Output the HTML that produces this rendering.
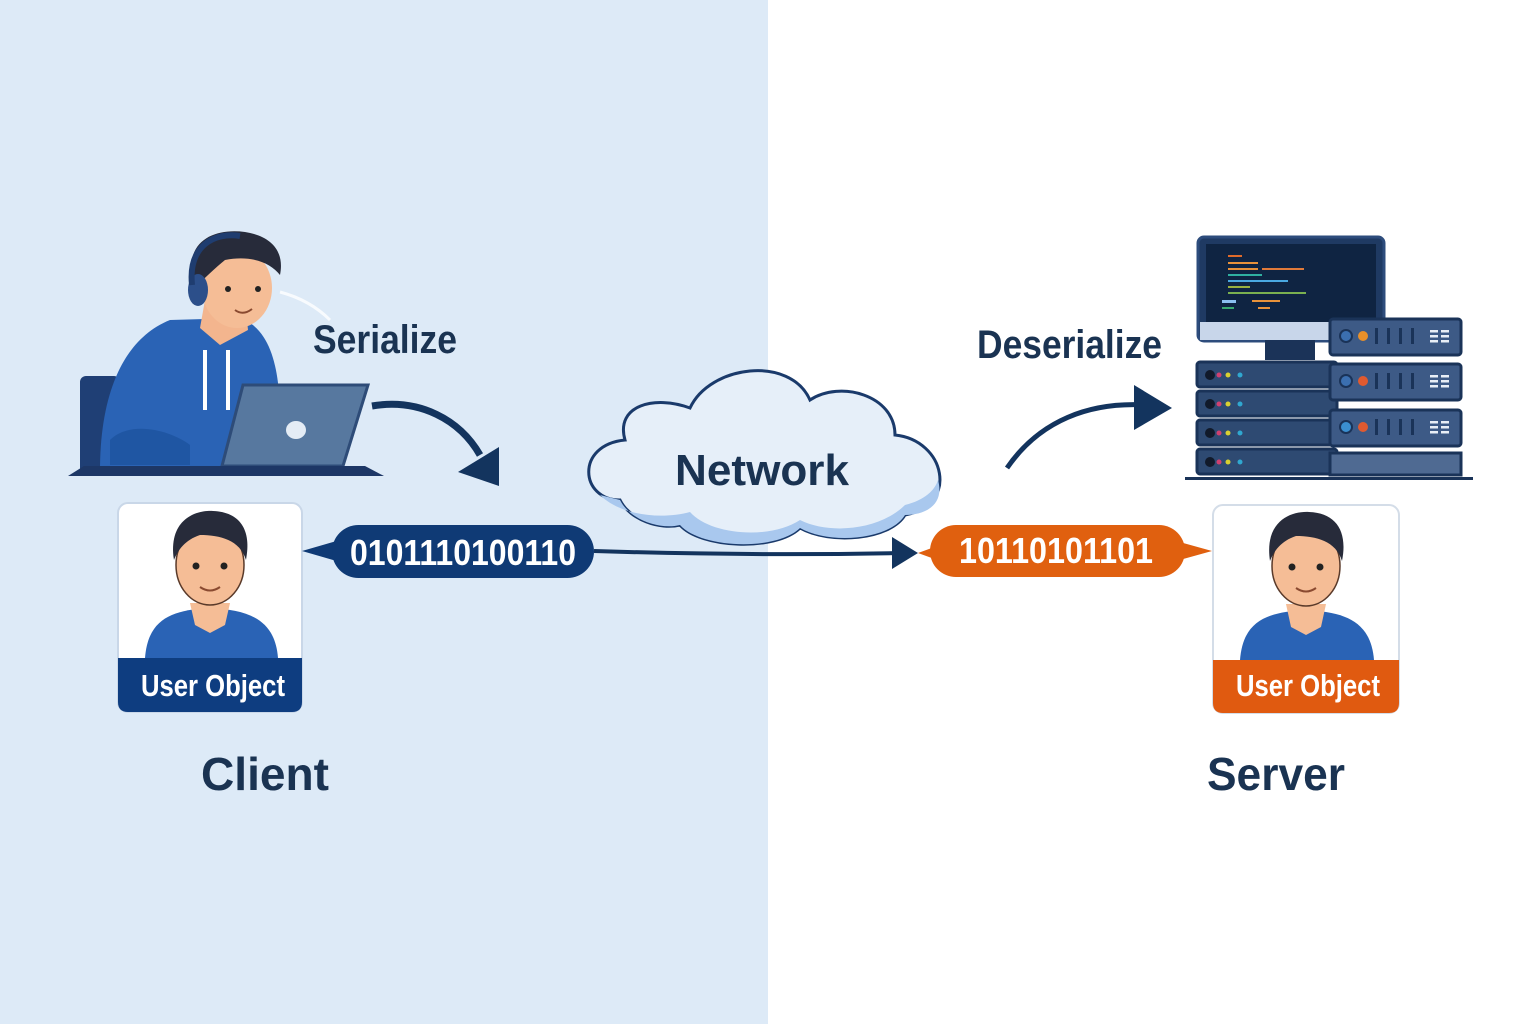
<!DOCTYPE html>
<html><head><meta charset="utf-8"><style>
html,body{margin:0;padding:0;width:1536px;height:1024px;overflow:hidden;background:#fff}
svg{display:block}
text{font-family:"Liberation Sans",sans-serif;font-weight:bold}
</style></head><body>
<svg width="1536" height="1024" viewBox="0 0 1536 1024" xmlns="http://www.w3.org/2000/svg">
<rect x="0" y="0" width="768" height="1024" fill="#ddeaf7"/>
<rect x="768" y="0" width="768" height="1024" fill="#ffffff"/>

<!-- Client person at desk -->
<rect x="80" y="376" width="40" height="98" rx="6" fill="#1f3f75"/>
<path d="M100 470 C100 400 120 340 170 320 L240 318 C275 330 280 380 280 420 L280 470 Z" fill="#2a63b5"/>
<path d="M110 440 C130 420 170 430 190 445 L190 465 L110 465 Z" fill="#1f56a3"/>
<rect x="203" y="350" width="4" height="60" fill="#fff"/><rect x="226" y="350" width="4" height="60" fill="#fff"/>
<path d="M205 300 L245 300 L248 330 L220 345 L200 328 Z" fill="#f3b58e"/>
<ellipse cx="237" cy="288" rx="35" ry="40" fill="#f5bd96"/>
<path d="M192 280 C185 240 215 228 245 232 C270 236 285 250 280 275 C270 262 250 255 225 260 C215 268 205 278 192 290 Z" fill="#272b3a"/>
<ellipse cx="198" cy="290" rx="10" ry="16" fill="#2c4f8a"/>
<path d="M192 285 C188 245 215 232 240 236" stroke="#1f3d70" stroke-width="6" fill="none"/>
<circle cx="228" cy="289" r="3" fill="#222"/><circle cx="258" cy="289" r="3" fill="#222"/>
<path d="M235 310 Q243 316 252 309" stroke="#8a4a30" stroke-width="2" fill="none"/>
<path d="M280 292 Q310 300 330 320" stroke="#fff" stroke-width="3" fill="none" opacity="0.8"/>
<path d="M243 385 L368 385 L343 466 L222 466 Z" fill="#57789f" stroke="#2e4c78" stroke-width="3"/>
<ellipse cx="296" cy="430" rx="10" ry="9" fill="#e4ecf5"/>
<path d="M68 476 L84 466 L365 466 L384 476 Z" fill="#1d3766"/>

<text x="313" y="353" font-size="40" fill="#1a3352" textLength="144" lengthAdjust="spacingAndGlyphs">Serialize</text>
<path d="M372 406 C420 398 460 420 480 455" stroke="#13345e" stroke-width="7" fill="none"/>
<polygon points="499,447 499,486 458,472" fill="#13345e"/>

<!-- Left user card -->
<g>
<rect x="118" y="503" width="184" height="209" rx="10" fill="#fff" stroke="#c9d7e8" stroke-width="2"/>
<path d="M118 658 L302 658 L302 702 Q302 712 292 712 L128 712 Q118 712 118 702 Z" fill="#0e3d80"/>
<path d="M145 658 C148 620 170 610 210 608 C250 610 275 620 278 658 Z" fill="#2a63b5"/>
<path d="M190 603 L230 603 L225 625 L210 633 L195 625 Z" fill="#f5bd96"/>
<ellipse cx="210" cy="565" rx="34" ry="40" fill="#f5bd96" stroke="#5a3a2a" stroke-width="1.5"/>
<path d="M174 560 C168 520 195 510 213 511 C240 512 252 530 246 560 C240 540 220 535 200 535 C185 540 178 550 174 560 Z" fill="#272b3a"/>
<circle cx="196" cy="566" r="3.5" fill="#222"/><circle cx="224" cy="566" r="3.5" fill="#222"/>
<path d="M200 587 Q210 594 220 587" stroke="#8a4a30" stroke-width="2" fill="none"/>
<text x="213" y="696" font-size="31" fill="#fff" text-anchor="middle" textLength="144" lengthAdjust="spacingAndGlyphs">User Object</text>
</g>

<!-- Navy pill -->
<polygon points="302,551 340,540 340,562" fill="#0f3a75"/>
<rect x="332" y="525" width="262" height="53" rx="26.5" fill="#0f3a75"/>
<text x="463" y="565" font-size="36" fill="#fff" text-anchor="middle" textLength="226" lengthAdjust="spacingAndGlyphs">0101110100110</text>

<!-- Cloud -->
<path d="M620 500 C580 500 575 445 625 440 C615 405 655 395 690 408 C710 365 790 355 810 400 C840 380 895 395 895 435 C945 440 960 505 905 515 C890 540 830 545 800 528 C775 552 700 548 680 525 C660 530 630 520 620 500 Z" fill="#e6eff9" stroke="#1a3a6b" stroke-width="3"/>
<path d="M600 495 C620 515 660 520 690 512 C710 535 770 540 800 520 C830 535 880 530 905 505 C925 500 935 490 938 480 C945 505 925 515 905 515 C890 540 830 545 800 528 C775 552 700 548 680 525 C660 530 630 520 620 500 Z" fill="#a9c8ee"/>
<text x="762" y="485" font-size="44" fill="#1a3352" text-anchor="middle" textLength="174" lengthAdjust="spacingAndGlyphs">Network</text>

<!-- Connector line -->
<path d="M594 551 Q750 556 900 553" stroke="#13345e" stroke-width="4" fill="none"/>
<polygon points="918,553 892,537 892,569" fill="#13345e"/>

<!-- Orange pill -->
<polygon points="1212,551 1176,541 1176,561" fill="#e0600f"/>
<polygon points="918,553 940,545 940,561" fill="#e0600f"/>
<rect x="930" y="525" width="255" height="52" rx="26" fill="#e0600f"/>
<text x="1056" y="563" font-size="36" fill="#fff" text-anchor="middle" textLength="194" lengthAdjust="spacingAndGlyphs">10110101101</text>

<!-- Right card -->
<g>
<rect x="1213" y="505" width="186" height="208" rx="10" fill="#fff" stroke="#d4dde8" stroke-width="2"/>
<path d="M1213 660 L1399 660 L1399 703 Q1399 713 1389 713 L1223 713 Q1213 713 1213 703 Z" fill="#e05a10"/>
<path d="M1240 660 C1243 622 1265 612 1306 610 C1346 612 1371 622 1374 660 Z" fill="#2a63b5"/>
<path d="M1286 604 L1326 604 L1321 627 L1306 635 L1291 627 Z" fill="#f5bd96"/>
<ellipse cx="1306" cy="566" rx="34" ry="40" fill="#f5bd96" stroke="#5a3a2a" stroke-width="1.5"/>
<path d="M1270 561 C1264 521 1291 511 1309 512 C1336 513 1348 531 1342 561 C1336 541 1316 536 1296 536 C1281 541 1274 551 1270 561 Z" fill="#272b3a"/>
<circle cx="1292" cy="567" r="3.5" fill="#222"/><circle cx="1320" cy="567" r="3.5" fill="#222"/>
<path d="M1296 588 Q1306 595 1316 588" stroke="#8a4a30" stroke-width="2" fill="none"/>
<text x="1308" y="696" font-size="31" fill="#fff" text-anchor="middle" textLength="144" lengthAdjust="spacingAndGlyphs">User Object</text>
</g>

<text x="977" y="358" font-size="40" fill="#1a3352" textLength="185" lengthAdjust="spacingAndGlyphs">Deserialize</text>
<path d="M1007 468 C1040 420 1090 402 1145 405" stroke="#13345e" stroke-width="5" fill="none"/>
<polygon points="1172,408 1134,385 1134,430" fill="#13345e"/>

<!-- Server -->
<rect x="1198" y="237" width="186" height="104" rx="6" fill="#1f3a63" stroke="#2d4c7c" stroke-width="3"/>
<rect x="1206" y="244" width="170" height="78" fill="#0f2442"/>
<rect x="1200" y="322" width="182" height="18" fill="#c8d6ea"/>
<rect x="1228" y="255" width="14" height="2" fill="#e06a2a"/>
<rect x="1228" y="262" width="30" height="2" fill="#e8923a"/>
<rect x="1228" y="268" width="30" height="2" fill="#e8923a"/><rect x="1262" y="268" width="42" height="2" fill="#e07a3a"/>
<rect x="1228" y="274" width="34" height="2" fill="#30b0a0"/>
<rect x="1228" y="280" width="60" height="2" fill="#4aa8e0"/>
<rect x="1228" y="286" width="22" height="2" fill="#9ab040"/>
<rect x="1228" y="292" width="78" height="2" fill="#7ab050"/>
<rect x="1222" y="300" width="14" height="3" fill="#8cc0f0"/><rect x="1252" y="300" width="28" height="2" fill="#e8923a"/>
<rect x="1222" y="307" width="12" height="2" fill="#3aaa70"/><rect x="1258" y="307" width="12" height="2" fill="#e8923a"/>
<rect x="1265" y="340" width="50" height="20" fill="#1b3358"/>
<g fill="#2e4a72" stroke="#1a3358" stroke-width="3">
<rect x="1197" y="362" width="140" height="25" rx="3"/>
<rect x="1197" y="391" width="140" height="25" rx="3"/>
<rect x="1197" y="420" width="140" height="25" rx="3"/>
<rect x="1197" y="449" width="140" height="25" rx="3"/>
</g>
<g>
<circle cx="1210" cy="375" r="5" fill="#111a2a"/><circle cx="1219" cy="375" r="2.5" fill="#d04070"/><circle cx="1228" cy="375" r="2.5" fill="#d8d030"/><circle cx="1240" cy="375" r="2.5" fill="#30a8d0"/>
<circle cx="1210" cy="404" r="5" fill="#111a2a"/><circle cx="1219" cy="404" r="2.5" fill="#d04070"/><circle cx="1228" cy="404" r="2.5" fill="#d8d030"/><circle cx="1240" cy="404" r="2.5" fill="#30a8d0"/>
<circle cx="1210" cy="433" r="5" fill="#111a2a"/><circle cx="1219" cy="433" r="2.5" fill="#d04070"/><circle cx="1228" cy="433" r="2.5" fill="#d8d030"/><circle cx="1240" cy="433" r="2.5" fill="#30a8d0"/>
<circle cx="1210" cy="462" r="5" fill="#111a2a"/><circle cx="1219" cy="462" r="2.5" fill="#d04070"/><circle cx="1228" cy="462" r="2.5" fill="#d8d030"/><circle cx="1240" cy="462" r="2.5" fill="#30a8d0"/>
</g>
<g fill="#3d5a86" stroke="#1a3358" stroke-width="3">
<rect x="1330" y="319" width="131" height="36" rx="3"/>
<rect x="1330" y="364" width="131" height="36" rx="3"/>
<rect x="1330" y="410" width="131" height="36" rx="3"/>
<rect x="1330" y="453" width="131" height="22" fill="#4f6a92"/>
</g>
<g>
<circle cx="1346" cy="336" r="6" fill="#3b6fb0" stroke="#1a3358" stroke-width="2"/><circle cx="1363" cy="336" r="5" fill="#e8902a"/>
<circle cx="1346" cy="381" r="6" fill="#3b6fb0" stroke="#1a3358" stroke-width="2"/><circle cx="1363" cy="381" r="5" fill="#e05a30"/>
<circle cx="1346" cy="427" r="6" fill="#3b8fd0" stroke="#1a3358" stroke-width="2"/><circle cx="1363" cy="427" r="5" fill="#e05a30"/>
<g fill="#1a3358"><rect x="1375" y="328" width="3" height="16"/><rect x="1387" y="328" width="3" height="16"/><rect x="1399" y="328" width="3" height="16"/><rect x="1411" y="328" width="3" height="16"/>
<rect x="1375" y="373" width="3" height="16"/><rect x="1387" y="373" width="3" height="16"/><rect x="1399" y="373" width="3" height="16"/><rect x="1411" y="373" width="3" height="16"/>
<rect x="1375" y="419" width="3" height="16"/><rect x="1387" y="419" width="3" height="16"/><rect x="1399" y="419" width="3" height="16"/><rect x="1411" y="419" width="3" height="16"/></g>
<g fill="#e8eef6"><rect x="1430" y="330" width="8" height="2.5"/><rect x="1441" y="330" width="8" height="2.5"/><rect x="1430" y="335" width="8" height="2.5"/><rect x="1441" y="335" width="8" height="2.5"/><rect x="1430" y="340" width="8" height="2.5"/><rect x="1441" y="340" width="8" height="2.5"/>
<rect x="1430" y="375" width="8" height="2.5"/><rect x="1441" y="375" width="8" height="2.5"/><rect x="1430" y="380" width="8" height="2.5"/><rect x="1441" y="380" width="8" height="2.5"/><rect x="1430" y="385" width="8" height="2.5"/><rect x="1441" y="385" width="8" height="2.5"/>
<rect x="1430" y="421" width="8" height="2.5"/><rect x="1441" y="421" width="8" height="2.5"/><rect x="1430" y="426" width="8" height="2.5"/><rect x="1441" y="426" width="8" height="2.5"/><rect x="1430" y="431" width="8" height="2.5"/><rect x="1441" y="431" width="8" height="2.5"/></g>
</g>
<rect x="1185" y="477" width="288" height="3" fill="#1a3358"/>

<text x="265" y="790" font-size="46" fill="#1a3352" text-anchor="middle" textLength="128" lengthAdjust="spacingAndGlyphs">Client</text>
<text x="1276" y="790" font-size="46" fill="#1a3352" text-anchor="middle" textLength="138" lengthAdjust="spacingAndGlyphs">Server</text>
</svg>
</body></html>
